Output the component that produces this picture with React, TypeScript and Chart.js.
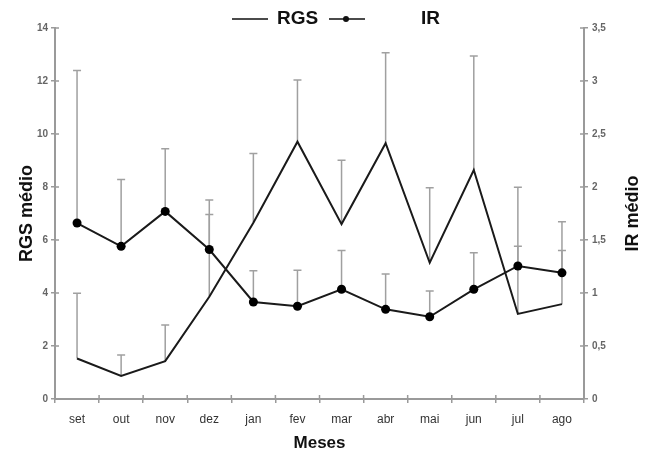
import React, { useEffect, useRef } from "react";
import { Chart, registerables } from "chart.js";

Chart.register(...registerables);

const months = ["set", "out", "nov", "dez", "jan", "fev", "mar", "abr", "mai", "jun", "jul", "ago"];
const rgs = [1.53, 0.87, 1.43, 3.86, 6.65, 9.71, 6.6, 9.65, 5.14, 8.64, 3.21, 3.58];
const rgsTop = [3.99, 1.66, 2.79, 7.51, 9.26, 12.04, 9.01, 13.07, 7.97, 12.94, 7.99, 6.69];
const ir = [1.66, 1.44, 1.77, 1.41, 0.915, 0.875, 1.035, 0.846, 0.776, 1.035, 1.255, 1.19];
const irTop = [3.1, 2.07, 2.36, 1.74, 1.21, 1.215, 1.4, 1.18, 1.02, 1.38, 1.44, 1.4];
const leftTicks = [0, 2, 4, 6, 8, 10, 12, 14];
const rightTicks = [0, 0.5, 1, 1.5, 2, 2.5, 3, 3.5];

const FONT = "Arial, 'Liberation Sans', sans-serif";
const AXIS = "#9a9a9a";

const customPlugin = {
  id: "custom",
  beforeDatasetsDraw(chart: any) {
    const ctx = chart.ctx;
    const x = chart.scales.x;
    const sets = [
      { vals: rgs, tops: rgsTop, scale: chart.scales.y },
      { vals: ir, tops: irTop, scale: chart.scales.y1 },
    ];
    ctx.save();
    ctx.strokeStyle = "#a0a0a0";
    ctx.lineWidth = 1.5;
    sets.forEach((s) => {
      s.vals.forEach((v, i) => {
        const px = x.getPixelForValue(i);
        const y0 = s.scale.getPixelForValue(v);
        const y1 = s.scale.getPixelForValue(s.tops[i]);
        ctx.beginPath();
        ctx.moveTo(px, y0);
        ctx.lineTo(px, y1);
        ctx.moveTo(px - 4, y1);
        ctx.lineTo(px + 4, y1);
        ctx.stroke();
      });
    });
    ctx.restore();
  },
  afterDraw(chart: any) {
    const ctx = chart.ctx;
    const area = chart.chartArea;
    const y = chart.scales.y;
    const y1 = chart.scales.y1;
    const x = chart.scales.x;
    ctx.save();
    // inward tick marks
    ctx.strokeStyle = AXIS;
    ctx.lineWidth = 1.5;
    ctx.beginPath();
    leftTicks.forEach((t) => {
      const py = y.getPixelForValue(t);
      ctx.moveTo(area.left, py);
      ctx.lineTo(area.left + 4, py);
    });
    rightTicks.forEach((t) => {
      const py = y1.getPixelForValue(t);
      ctx.moveTo(area.right, py);
      ctx.lineTo(area.right - 4, py);
    });
    for (let i = 1; i < months.length; i++) {
      const px = (x.getPixelForValue(i - 1) + x.getPixelForValue(i)) / 2;
      ctx.moveTo(px, area.bottom);
      ctx.lineTo(px, area.bottom - 4);
    }
    ctx.stroke();

    // axis titles
    ctx.fillStyle = "#111";
    ctx.font = `bold 18px ${FONT}`;
    ctx.textAlign = "center";
    ctx.textBaseline = "middle";
    const midY = (area.top + area.bottom) / 2;
    ctx.save();
    ctx.translate(27, midY);
    ctx.rotate(-Math.PI / 2);
    ctx.fillText("RGS médio", 0, 0);
    ctx.restore();
    ctx.save();
    ctx.translate(633, midY);
    ctx.rotate(-Math.PI / 2);
    ctx.fillText("IR médio", 0, 0);
    ctx.restore();
    ctx.font = `bold 17px ${FONT}`;
    ctx.fillText("Meses", (area.left + area.right) / 2, 443);

    // legend
    ctx.strokeStyle = "#111";
    ctx.lineWidth = 1.5;
    ctx.beginPath();
    ctx.moveTo(232, 19);
    ctx.lineTo(268, 19);
    ctx.moveTo(329, 19);
    ctx.lineTo(365, 19);
    ctx.stroke();
    ctx.fillStyle = "#111";
    ctx.beginPath();
    ctx.arc(346, 19, 3, 0, Math.PI * 2);
    ctx.fill();
    ctx.font = `bold 19px ${FONT}`;
    ctx.textAlign = "left";
    ctx.fillText("RGS", 277, 19);
    ctx.fillText("IR", 421, 19);
    ctx.restore();
  },
};

export default function App() {
  const ref = useRef<HTMLCanvasElement | null>(null);
  useEffect(() => {
    if (!ref.current) return;
    const chart = new Chart(ref.current, {
      type: "line",
      data: {
        labels: months,
        datasets: [
          {
            label: "RGS",
            data: rgs,
            yAxisID: "y",
            borderColor: "#1a1a1a",
            borderWidth: 2,
            pointRadius: 0,
            tension: 0,
          },
          {
            label: "IR",
            data: ir,
            yAxisID: "y1",
            borderColor: "#1a1a1a",
            backgroundColor: "#000",
            borderWidth: 2,
            pointRadius: 4.5,
            pointBackgroundColor: "#000",
            pointBorderWidth: 0,
            tension: 0,
          },
        ],
      },
      options: {
        animation: false,
        responsive: true,
        maintainAspectRatio: false,
        layout: { padding: { top: 28, left: 0, right: 0, bottom: 0 } },
        plugins: { legend: { display: false }, tooltip: { enabled: false } },
        scales: {
          x: {
            offset: true,
            grid: { display: true, drawOnChartArea: false, offset: true, tickLength: 4, color: AXIS, lineWidth: 1.5 },
            border: { display: true, color: AXIS, width: 2 },
            ticks: { color: "#333", font: { family: FONT, size: 12 }, padding: 9, maxRotation: 0, autoSkip: false },
            afterFit: (s: any) => {
              s.height = 53;
            },
          },
          y: {
            position: "left",
            min: 0,
            max: 14,
            afterBuildTicks: (s: any) => {
              s.ticks = leftTicks.map((v) => ({ value: v }));
            },
            grid: { display: true, drawOnChartArea: false, tickLength: 4, color: AXIS, lineWidth: 1.5 },
            border: { display: true, color: AXIS, width: 2 },
            ticks: { color: "#666", font: { family: FONT, size: 10, weight: "bold" }, padding: 3 },
            afterFit: (s: any) => {
              s.width = 55;
            },
          },
          y1: {
            position: "right",
            min: 0,
            max: 3.5,
            afterBuildTicks: (s: any) => {
              s.ticks = rightTicks.map((v) => ({ value: v }));
            },
            grid: { display: true, drawOnChartArea: false, tickLength: 4, color: AXIS, lineWidth: 1.5 },
            border: { display: true, color: AXIS, width: 2 },
            ticks: {
              color: "#666",
              font: { family: FONT, size: 10, weight: "bold" },
              padding: 4,
              callback: (v: any) => String(v).replace(".", ","),
            },
            afterFit: (s: any) => {
              s.width = 67;
            },
          },
        },
      },
      plugins: [customPlugin],
    });
    return () => chart.destroy();
  }, []);
  return (
    <div style={{ position: "absolute", left: 0, top: 0, width: 651, height: 452, background: "#fff" }}>
      <canvas ref={ref} />
    </div>
  );
}
